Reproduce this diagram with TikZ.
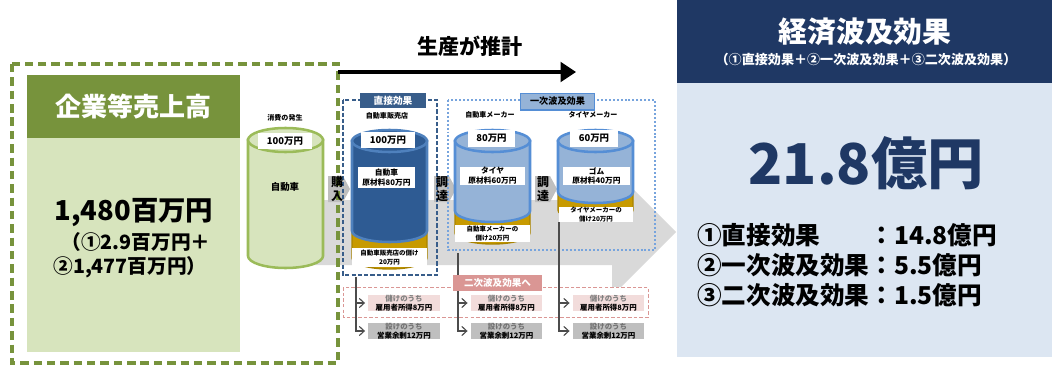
\documentclass[tikz,border=0pt]{standalone}
\usepackage{fontspec}
\setmainfont{Noto Sans CJK JP}
\usepackage{tikz}
\usetikzlibrary{positioning,arrows.meta}
\definecolor{olivgruen}{RGB}{119,147,60}
\definecolor{hellgruen}{RGB}{215,228,189}
\definecolor{gruenrand}{RGB}{155,187,89}
\definecolor{dunkelblau}{RGB}{46,91,147}
\definecolor{blaurand}{RGB}{79,129,189}
\definecolor{rahmenblau}{RGB}{56,93,138}
\definecolor{hellblau}{RGB}{149,179,215}
\definecolor{hellblaurand}{RGB}{85,142,213}
\definecolor{goldton}{RGB}{199,154,0}
\definecolor{navyblau}{RGB}{31,56,100}
\definecolor{panelblau}{RGB}{220,230,242}
\definecolor{rosa}{RGB}{242,220,219}
\definecolor{rosarand}{RGB}{218,150,148}
\definecolor{grauband}{RGB}{217,217,217}
\definecolor{graukasten}{RGB}{191,191,191}
\newcommand{\schrift}[2]{\fontsize{#1}{#2}\selectfont\bfseries}

\begin{document}
\begin{tikzpicture}[x=0.025cm, y=0.025cm, yscale=-1]
\tikzstyle{etikett}=[fill=white, inner sep=0pt, align=center, font=\schrift{5.5}{7}]
\tikzstyle{klein}=[inner sep=0pt, font=\schrift{5}{6}]
\tikzstyle{kasten}=[inner sep=0pt, align=center, minimum width=51pt, minimum height=11.5pt, font=\schrift{5.3}{6.5}]
\tikzstyle{linie}=[draw=black!70, line width=0.8pt, -{Straight Barb[length=3.5pt,width=6.5pt]}, shorten >=2pt]
\tikzstyle{senkrecht}=[inner sep=0pt, align=center, font=\schrift{8.5}{10}]

\useasboundingbox (0,0) rectangle (1052,368);

% grauer Pfeil im Hintergrund
\fill[grauband] (285,200) -- (612,200) -- (612,168) -- (676,232) -- (612,296) -- (612,265) -- (285,265) -- cycle;
% kleine Pfeile
\foreach \x in {328,434,535}
	\fill[graukasten] (\x,176) -- (\x+15,176) -- (\x+22,189) -- (\x+15,202) -- (\x,202) -- cycle;

% linker Kasten
\draw[olivgruen, line width=2.2pt, dash pattern=on 6pt off 3.5pt] (12,64) rectangle (338,363);
\fill[olivgruen] (27,75) rectangle (240,138);
\fill[hellgruen] (27,138) rectangle (240,352);
\node[text=white, font=\schrift{18.5}{20}] (titel) at (133.5,106.5) {企業等売上高};
\node[font=\schrift{19.5}{22}] (umsatz) at (134,213) {1,480百万円};
\node[font=\schrift{14}{16}] (teil1) at (136,242) {（①2.9百万円＋};
\node[font=\schrift{14}{16}] (teil2) at (130,267) {②1,477百万円）};

% Pfeil oben
\coordinate (a0) at (338,72);
\coordinate (a1) at (576,72);
\draw[line width=2.2pt, -{Triangle[length=11pt,width=14pt]}] (a0) -- (a1);
\node[font=\schrift{15}{17}] (prod) at (470,46) {生産が推計};

% Rahmen
\draw[rahmenblau, line width=0.9pt, dash pattern=on 3pt off 1.5pt] (343,100) rectangle (437,275);
\draw[hellblaurand!80, line width=1.5pt, dash pattern=on 1.4pt off 1.4pt] (448,100) rectangle (655,250);

% Zylinder Konsum
\draw[gruenrand, fill=hellgruen, line width=1.8pt] (248,140) -- (248,256) arc[start angle=180, end angle=0, x radius=37.5, y radius=12] -- (323,140) -- cycle;
\draw[gruenrand, fill=hellgruen, line width=1.8pt] (285.5,140) ellipse [x radius=37.5, y radius=12];

% Zylinder mit Sockel
\foreach \xl/\xr/\yb/\yg/\fa/\ra in {352/427/231/258/dunkelblau/blaurand, 455/530/211/233/hellblau/hellblaurand, 558/633/192/210/hellblau/hellblaurand}{
	\pgfmathsetmacro\rx{(\xr-\xl)/2}
	\pgfmathsetmacro\mx{(\xr+\xl)/2}
	\draw[goldton!85!black, fill=goldton, line width=1pt] (\xl,141) -- (\xl,\yg) arc[start angle=180, end angle=0, x radius=\rx, y radius=11] -- (\xr,141) -- cycle;
	\draw[\ra, fill=\fa, line width=1.8pt] (\xl,141) -- (\xl,\yb) arc[start angle=180, end angle=0, x radius=\rx, y radius=11] -- (\xr,141) -- cycle;
	\draw[\ra, fill=\fa, line width=1.8pt] (\mx,141) ellipse [x radius=\rx, y radius=11];
}

% Beschriftung Konsum
\node[etikett, minimum width=38pt, minimum height=12pt, font=\schrift{6.7}{8}] (g1) at (285,141) {100万円};
\node[klein, above=8pt of g1] (g0) {消費の発生};
\node[font=\schrift{6.7}{8}] (g2) at (285,187) {自動車};

% direkter Effekt
\node[fill=rahmenblau, text=white, inner sep=0pt, minimum width=47pt, minimum height=10.5pt, font=\schrift{6.9}{8}] (lab1) at (393,100.5) {直接効果};
\node[klein] (z10) at (387,116) {自動車販売店};
\node[etikett, minimum width=38pt, minimum height=11.5pt, font=\schrift{6.7}{8}] (z11) at (388,140) {100万円};
\node[etikett, minimum width=40.5pt, minimum height=15pt] (z12) at (386.5,177.5) {自動車\\原材料80万円};
\node[etikett, minimum width=53pt, minimum height=13.5pt, font=\schrift{4.6}{6.5}] (z13) at (389.5,257.5) {自動車販売店の儲け\\20万円};

% erste Welle
\node[fill=hellblau, draw=hellblaurand, line width=0.8pt, inner sep=0pt, minimum width=53pt, minimum height=12pt, font=\schrift{6.5}{8}] (lab2) at (557.5,101.5) {一次波及効果};
\node[klein] (z20) at (490,115) {自動車メーカー};
\node[etikett, minimum width=33.5pt, minimum height=12pt, font=\schrift{6.7}{8}] (z21) at (491.5,138.5) {80万円};
\node[etikett, minimum width=46pt, minimum height=13pt] (z22) at (492.5,176) {タイヤ\\原材料60万円};
\node[etikett, minimum width=53pt, minimum height=12pt, font=\schrift{4.6}{6.5}] (z23) at (492.5,233.5) {自動車メーカーの\\儲け20万円};
\node[klein] (z30) at (593,115) {タイヤメーカー};
\node[etikett, minimum width=34pt, minimum height=12pt, font=\schrift{6.7}{8}] (z31) at (594,138.5) {60万円};
\node[etikett, minimum width=48pt, minimum height=13pt] (z32) at (596.5,176) {ゴム\\原材料40万円};
\node[etikett, minimum width=53pt, minimum height=11pt, font=\schrift{4.6}{6}] (z33) at (596,214.5) {タイヤメーカーの\\儲け20万円};

% kaufen / beschaffen
\node[senkrecht] (kauf) at (337,189) {購\\入};
\node[senkrecht] (besch1) at (442,189) {調\\達};
\node[senkrecht] (besch2) at (543,189) {調\\達};

% zweite Welle
\draw[rosarand, line width=0.7pt, dash pattern=on 2.5pt off 1.5pt, fill=white] (343,287) rectangle (648,317);
\foreach \n/\x in {1/404, 2/506.5, 3/608.5}{
	\node[kasten, fill=rosa] (p\n) at (\x,303) {\textcolor{black!50}{儲けのうち}\\雇用者所得8万円};
	\node[kasten, fill=graukasten] (q\n) at (\x,331) {\textcolor{black!55}{設けのうち}\\営業余剰12万円};
}
\coordinate (v1) at (356,277);
\coordinate (v2) at (458,253);
\coordinate (v3) at (559,222);
\foreach \n in {1,2,3}{
	\draw[linie] (v\n) |- (p\n.west);
	\draw[linie] (v\n) |- (q\n.west);
}
\node[fill=rosarand, text=white, inner sep=0pt, minimum width=63pt, minimum height=11.5pt, font=\schrift{6.8}{8}] (lab3) at (497.5,283) {二次波及効果へ};

% rechtes Feld
\fill[navyblau] (677,0) rectangle (1052,83);
\fill[panelblau] (677,83) rectangle (1052,357);
\node[text=white, font=\schrift{20.5}{22}] (wtitel) at (865,32) {経済波及効果};
\node[text=white, font=\schrift{9.3}{10}] (wsub) at (866,60) {（①直接効果＋②一次波及効果＋③二次波及効果）};
\node[text=navyblau, font=\schrift{40}{44}] (summe) at (866,163) {21.8億円};
\node[anchor=west, inner sep=0pt, font=\schrift{17.5}{21}] (effekte) at (697,268) {\begin{tabular}{@{}l@{}l@{}}①直接効果&：14.8億円\\②一次波及効果&：5.5億円\\③二次波及効果&：1.5億円\end{tabular}};
\end{tikzpicture}
\end{document}
